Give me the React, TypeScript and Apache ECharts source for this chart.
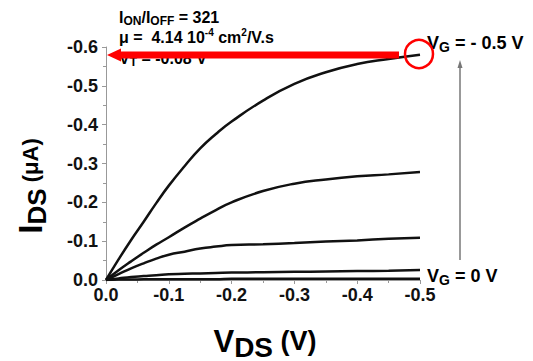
import React, { useEffect, useRef } from "react";
import * as echarts from "echarts";

const vds = [0, -0.02, -0.04, -0.06, -0.08, -0.1, -0.125, -0.15, -0.175, -0.2, -0.25, -0.3, -0.35, -0.4, -0.45, -0.5];
const idsVg05 = [0, -0.053, -0.103, -0.15, -0.198, -0.243, -0.293, -0.339, -0.376, -0.408, -0.462, -0.505, -0.535, -0.556, -0.569, -0.58];
const idsVg04 = [0, -0.025, -0.048, -0.07, -0.091, -0.11, -0.135, -0.158, -0.18, -0.2, -0.229, -0.248, -0.259, -0.267, -0.272, -0.278];
const idsVg03 = [0, -0.015, -0.03, -0.043, -0.055, -0.065, -0.073, -0.081, -0.086, -0.09, -0.092, -0.095, -0.099, -0.102, -0.106, -0.109];
const idsVg02 = [0, -0.004, -0.008, -0.01, -0.012, -0.015, -0.016, -0.017, -0.018, -0.019, -0.02, -0.021, -0.022, -0.023, -0.024, -0.026];
const idsVg00 = [0, -0.001, -0.001, -0.002, -0.002, -0.002, -0.002, -0.002, -0.002, -0.003, -0.003, -0.003, -0.003, -0.003, -0.003, -0.003];
const curves = [idsVg05, idsVg04, idsVg03, idsVg02, idsVg00];

const FONT = "'Liberation Sans', Arial, sans-serif";

export default function App() {
  const ref = useRef<HTMLDivElement>(null);
  useEffect(() => {
    if (!ref.current) return;
    const chart = echarts.init(ref.current, null, { renderer: "svg" });
    const rich = (size: number) => ({
      b: { fontSize: size, fontWeight: "bold", fontFamily: FONT, color: "#111", lineHeight: size + 4 },
      s: { fontSize: Math.round(size * 0.75), fontWeight: "bold", fontFamily: FONT, color: "#111", verticalAlign: "bottom", lineHeight: Math.round(size * 0.75) },
      p: { fontSize: Math.round(size * 0.65), fontWeight: "bold", fontFamily: FONT, color: "#111", verticalAlign: "top", lineHeight: Math.round(size * 0.65) },
    });
    const txt = (x: number, y: number, text: string, size: number) => ({
      type: "text",
      x,
      y,
      style: { text, rich: rich(size), verticalAlign: "middle", align: "left" },
      z: 10,
    });
    const labelStyle = { color: "#111", fontWeight: "bold", fontSize: 18, fontFamily: FONT };
    const big = (fontSize: number, lineHeight: number, verticalAlign: string) => ({
      fontSize,
      lineHeight,
      verticalAlign,
      fontWeight: "bold",
      fontFamily: FONT,
      color: "#111",
    });
    chart.setOption({
      animation: false,
      grid: { left: 106, right: 113, top: 47, bottom: 81 },
      xAxis: {
        type: "value",
        min: -0.5,
        max: 0,
        interval: 0.1,
        inverse: true,
        axisLine: { show: true, lineStyle: { color: "#999", width: 1 } },
        axisTick: { show: true, length: 4, lineStyle: { color: "#999" } },
        minorTick: { show: true, splitNumber: 2, length: 3, lineStyle: { color: "#999" } },
        splitLine: { show: false },
        axisLabel: { ...labelStyle, margin: 6, formatter: (v: number) => v.toFixed(1) },
      },
      yAxis: {
        type: "value",
        min: -0.6,
        max: 0,
        interval: 0.1,
        inverse: true,
        axisLine: { show: true, lineStyle: { color: "#999", width: 1 } },
        axisTick: { show: true, length: 4, lineStyle: { color: "#999" } },
        minorTick: { show: true, splitNumber: 2, length: 3, lineStyle: { color: "#999" } },
        splitLine: { show: false },
        axisLabel: { ...labelStyle, margin: 8, formatter: (v: number) => v.toFixed(1) },
      },
      series: curves.map((c) => ({
        type: "line",
        data: vds.map((v, i) => [v, c[i]]),
        smooth: true,
        showSymbol: false,
        lineStyle: { color: "#111", width: 2.5 },
        z: 3,
      })),
      graphic: [
        txt(119, 17, "{b|I}{s|ON}{b|/I}{s|OFF}{b| = 321}", 16),
        txt(119, 37, "{b|μ =  4.14 10}{p|-4}{b| cm}{p|2}{b|/V.s}", 16),
        txt(119, 58, "{b|V}{s|T}{b| = -0.08 V}", 16),
        txt(427, 43, "{b|V}{s|G}{b| = - 0.5 V}", 18),
        txt(427, 276, "{b|V}{s|G}{b| = 0 V}", 18),
        {
          type: "line",
          shape: { x1: 460, y1: 64, x2: 460, y2: 260 },
          style: { stroke: "#777", lineWidth: 1.5 },
        },
        {
          type: "polygon",
          shape: { points: [[460, 60], [457.5, 68], [462.5, 68]] },
          style: { fill: "#777" },
        },
        {
          type: "line",
          shape: { x1: 118, y1: 55, x2: 399, y2: 55 },
          style: { stroke: "#f00", lineWidth: 7 },
          z: 20,
        },
        {
          type: "polygon",
          shape: { points: [[107, 55], [121, 48.5], [121, 61.5]] },
          style: { fill: "#f00" },
          z: 20,
        },
        {
          type: "circle",
          shape: { cx: 419, cy: 54, r: 14 },
          style: { fill: "none", stroke: "#f00", lineWidth: 2.5 },
          z: 20,
        },
        {
          type: "text",
          x: 265,
          y: 341,
          style: {
            text: "{v|V}{d|DS}{p| (V)}",
            align: "center",
            verticalAlign: "middle",
            rich: {
              v: big(31, 40, "middle"),
              d: big(28, 28, "bottom"),
              p: big(27, 40, "middle"),
            },
          },
        },
        {
          type: "text",
          x: 30,
          y: 186,
          rotation: Math.PI / 2,
          style: {
            text: "{i|I}{d|DS}{p| (μA)}",
            align: "center",
            verticalAlign: "middle",
            rich: {
              i: big(33, 40, "middle"),
              d: big(26, 26, "bottom"),
              p: big(22, 40, "middle"),
            },
          },
        },
      ],
    });
    return () => chart.dispose();
  }, []);
  return <div ref={ref} style={{ width: 533, height: 361, position: "absolute", left: 0, top: 0 }} />;
}
